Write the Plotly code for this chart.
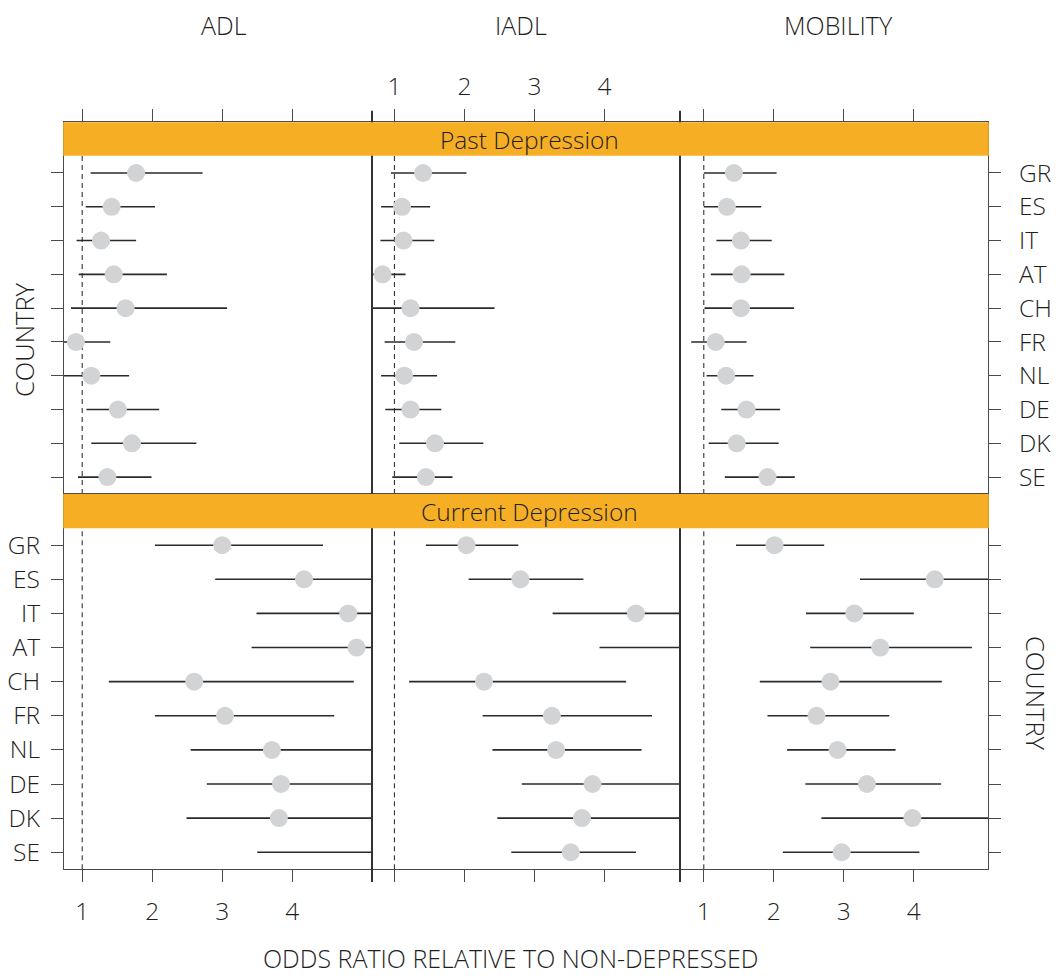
import plotly.graph_objects as go

# Countries, top to bottom within each panel
countries = ["GR", "ES", "IT", "AT", "CH", "FR", "NL", "DE", "DK", "SE"]
outcomes = ["ADL", "IADL", "MOBILITY"]
x_ticks = [1, 2, 3, 4]

# Past depression: odds ratio with 95% CI
adl_past_or = [1.77, 1.42, 1.27, 1.45, 1.62, 0.91, 1.13, 1.51, 1.71, 1.36]
adl_past_lo = [1.12, 1.05, 0.92, 0.95, 0.84, 0.70, 0.71, 1.06, 1.13, 0.94]
adl_past_hi = [2.72, 2.04, 1.77, 2.21, 3.07, 1.40, 1.67, 2.10, 2.63, 1.99]

iadl_past_or = [1.41, 1.11, 1.13, 0.83, 1.23, 1.28, 1.14, 1.23, 1.58, 1.45]
iadl_past_lo = [0.95, 0.81, 0.80, 0.66, 0.67, 0.86, 0.81, 0.87, 1.07, 0.97]
iadl_past_hi = [2.03, 1.51, 1.57, 1.16, 2.43, 1.87, 1.61, 1.67, 2.27, 1.83]

mob_past_or = [1.43, 1.33, 1.53, 1.54, 1.53, 1.17, 1.32, 1.61, 1.47, 1.91]
mob_past_lo = [1.00, 1.00, 1.18, 1.10, 1.01, 0.82, 1.04, 1.25, 1.07, 1.30]
mob_past_hi = [2.04, 1.82, 1.97, 2.15, 2.29, 1.61, 1.71, 2.09, 2.07, 2.30]

# Current depression: odds ratio with 95% CI
adl_curr_or = [3.00, 4.17, 4.80, 4.92, 2.60, 3.04, 3.71, 3.84, 3.81, 5.50]
adl_curr_lo = [2.04, 2.90, 3.49, 3.42, 1.38, 2.04, 2.55, 2.78, 2.49, 3.50]
adl_curr_hi = [4.44, 5.60, 6.00, 6.10, 4.88, 4.60, 5.50, 5.60, 5.80, 7.50]

iadl_curr_or = [2.03, 2.80, 4.45, 5.40, 2.28, 3.25, 3.31, 3.83, 3.68, 3.52]
iadl_curr_lo = [1.45, 2.06, 3.26, 3.93, 1.21, 2.26, 2.40, 2.82, 2.47, 2.67]
iadl_curr_hi = [2.77, 3.70, 5.40, 7.00, 4.31, 4.68, 4.53, 5.50, 5.30, 4.45]

mob_curr_or = [2.01, 4.30, 3.15, 3.52, 2.81, 2.61, 2.91, 3.33, 3.98, 2.97]
mob_curr_lo = [1.46, 3.23, 2.46, 2.52, 1.80, 1.91, 2.19, 2.45, 2.68, 2.13]
mob_curr_hi = [2.72, 5.50, 4.00, 4.83, 4.40, 3.65, 3.74, 4.39, 5.30, 4.08]

W, H = 1056, 978
INK = "#1f1f1f"
FRAME = "#4a4a4a"
DOT = "#d2d3d5"
STRIP = "#f6af24"
FONT = "Open Sans"

def px_x(p):
    return p / W

def px_y(p):
    return 1 - p / H

col_px = [(64, 372), (372, 680), (680, 988)]
x_ranges = [[0.74, 5.14], [0.68, 5.08], [0.66, 5.06]]
row_px = [(122.3, 494.0), (494.0, 869.3)]
strip_px = [(122.3, 155.7), (494.0, 528.3)]
strip_text = ["Past Depression", "Current Depression"]

panels = [
    [(adl_past_or, adl_past_lo, adl_past_hi),
     (iadl_past_or, iadl_past_lo, iadl_past_hi),
     (mob_past_or, mob_past_lo, mob_past_hi)],
    [(adl_curr_or, adl_curr_lo, adl_curr_hi),
     (iadl_curr_or, iadl_curr_lo, iadl_curr_hi),
     (mob_curr_or, mob_curr_lo, mob_curr_hi)],
]

tick_font = dict(family=FONT, size=24.5, color=INK, weight=300)

fig = go.Figure()
layout = {}
shapes = []

for r in range(2):
    for c in range(3):
        k = r * 3 + c + 1
        suffix = "" if k == 1 else str(k)
        xa, ya = f"x{suffix}", f"y{suffix}"
        ors, los, his = panels[r][c]

        # confidence interval segments
        seg_x, seg_y = [], []
        for name, lo, hi in zip(countries, los, his):
            seg_x += [lo, hi, None]
            seg_y += [name, name, None]
        fig.add_trace(go.Scatter(
            x=seg_x, y=seg_y, mode="lines", xaxis=xa, yaxis=ya,
            line=dict(color="#2a2a2a", width=1.6), hoverinfo="skip", showlegend=False))
        # point estimates
        fig.add_trace(go.Scatter(
            x=ors, y=countries, mode="markers", xaxis=xa, yaxis=ya,
            marker=dict(size=18, color=DOT, line=dict(width=0)),
            showlegend=False, cliponaxis=True))

        top = r == 0
        show_x_labels = (top and c == 1) or ((not top) and c != 1)
        layout[f"xaxis{suffix}"] = dict(
            domain=[px_x(col_px[c][0]), px_x(col_px[c][1])],
            anchor=ya, side="top" if top else "bottom",
            range=x_ranges[c], tickvals=x_ticks,
            ticks="outside", ticklen=12, tickwidth=1.2, tickcolor=FRAME,
            showticklabels=show_x_labels, ticklabelstandoff=4 if top else 8,
            tickfont=tick_font,
            showline=True, linecolor=FRAME, linewidth=1.2, mirror=True,
            showgrid=False, zeroline=False, fixedrange=True,
        )

        if c == 1:
            y_side, y_ticks, y_labels = "left", "", False
        elif c == 0:
            y_side, y_ticks, y_labels = "left", "outside", not top
        else:
            y_side, y_ticks, y_labels = "right", "outside", top
        layout[f"yaxis{suffix}"] = dict(
            domain=[px_y(row_px[r][1]), px_y(row_px[r][0])],
            anchor=xa, side=y_side, type="category",
            categoryorder="array", categoryarray=countries,
            range=[9.5, -1.5],
            ticks=y_ticks, ticklen=12, tickwidth=1.2, tickcolor=FRAME,
            showticklabels=y_labels,
            ticklabelstandoff=6 if y_side == "left" else 13,
            tickfont=tick_font,
            showline=True, linecolor=FRAME, linewidth=1.2, mirror=True,
            showgrid=False, zeroline=False, fixedrange=True,
        )

        # reference line at odds ratio 1
        shapes.append(dict(
            type="line", xref=xa, yref=f"{ya} domain", x0=1, x1=1, y0=0, y1=1,
            line=dict(color=INK, width=1, dash="5px,4px"), layer="below"))

# panel dividers (extend slightly past the frame like tick marks)
for xp in (372, 680):
    shapes.append(dict(
        type="line", xref="paper", yref="paper",
        x0=px_x(xp), x1=px_x(xp), y0=px_y(110.7), y1=px_y(882),
        line=dict(color="#333333", width=2), layer="above"))

# strips
annotations = []
for (s0, s1), label in zip(strip_px, strip_text):
    shapes.append(dict(
        type="rect", xref="paper", yref="paper",
        x0=px_x(63.2), x1=px_x(988.8), y0=px_y(s1), y1=px_y(s0),
        fillcolor=STRIP, line=dict(width=0), layer="above"))
    annotations.append(dict(
        text=label, xref="paper", yref="paper",
        x=px_x(529), y=px_y((s0 + s1) / 2), showarrow=False,
        xanchor="center", yanchor="middle",
        font=dict(family=FONT, size=24.5, color=INK, weight=300)))

# column titles
for name, xc in zip(outcomes, (224, 521, 838)):
    annotations.append(dict(
        text=name, xref="paper", yref="paper", x=px_x(xc), y=px_y(25),
        showarrow=False, xanchor="center", yanchor="middle",
        font=dict(family=FONT, size=25, color=INK, weight=300)))

# axis titles
label_font = dict(family=FONT, size=25.5, color=INK, weight=300)
annotations.append(dict(
    text="ODDS RATIO RELATIVE TO NON-DEPRESSED", xref="paper", yref="paper",
    x=px_x(510), y=px_y(958), showarrow=False, xanchor="center", yanchor="middle",
    font=dict(family=FONT, size=25, color=INK, weight=300)))
annotations.append(dict(
    text="COUNTRY", xref="paper", yref="paper", x=px_x(24), y=px_y(340),
    showarrow=False, textangle=-90, xanchor="center", yanchor="middle",
    font=label_font))
annotations.append(dict(
    text="COUNTRY", xref="paper", yref="paper", x=px_x(1036), y=px_y(693),
    showarrow=False, textangle=90, xanchor="center", yanchor="middle",
    font=label_font))

fig.update_layout(
    width=W, height=H,
    margin=dict(l=0, r=0, t=0, b=0),
    paper_bgcolor="white", plot_bgcolor="white",
    shapes=shapes, annotations=annotations,
    showlegend=False,
    **layout,
)

fig.write_html("out.html")
